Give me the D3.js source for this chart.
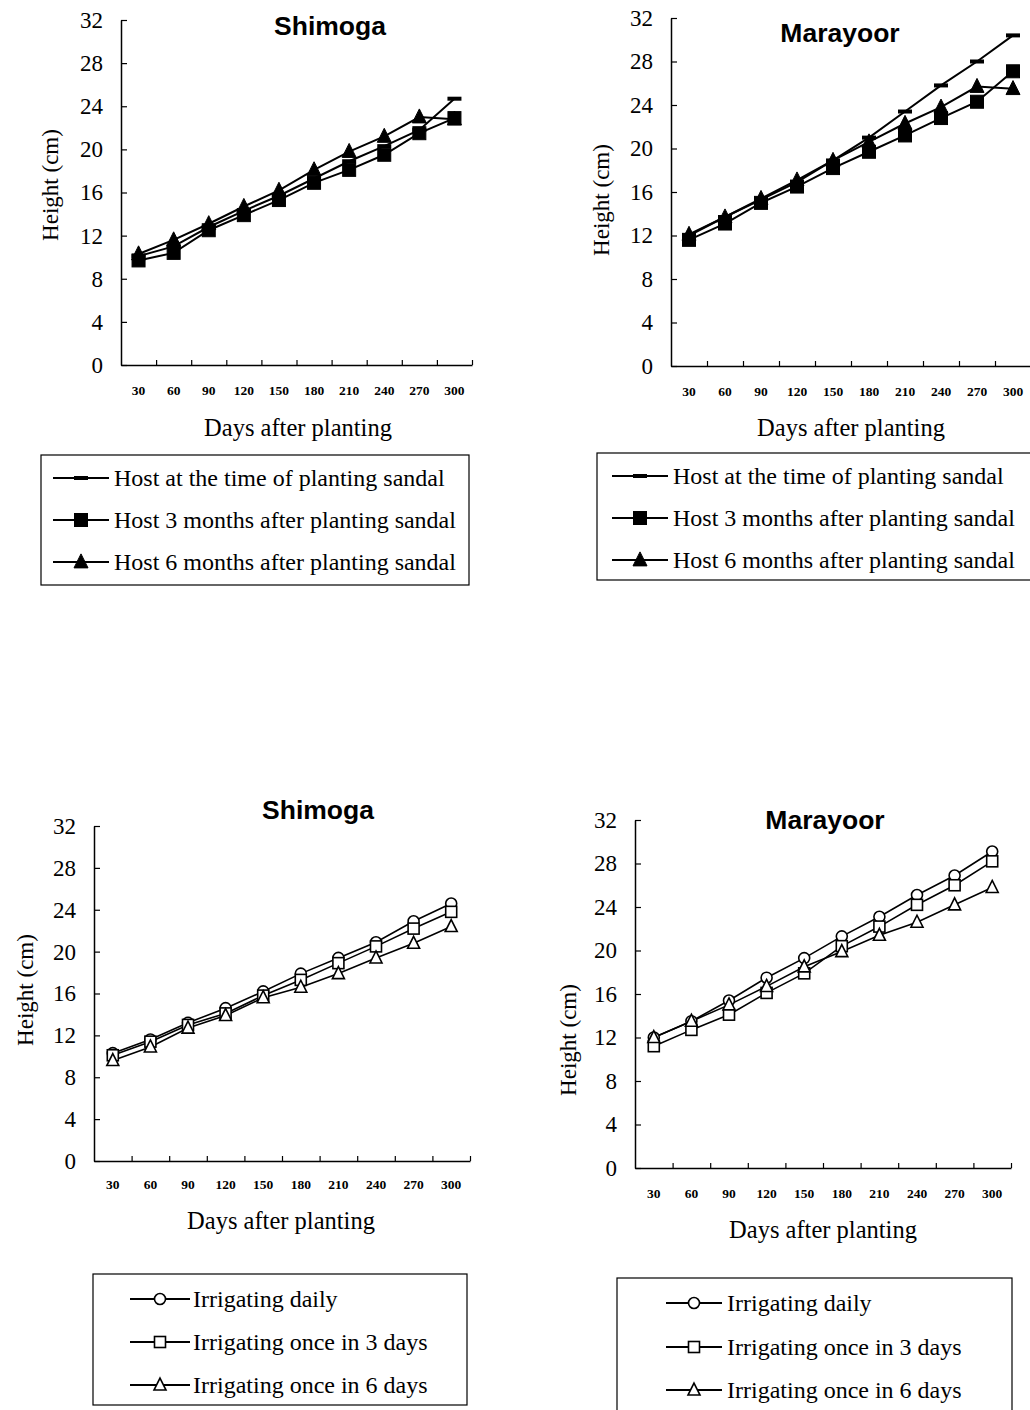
<!DOCTYPE html>
<html><head><meta charset="utf-8">
<script src="https://cdn.jsdelivr.net/npm/d3@7"></script>
<style>body{margin:0;background:#fff}svg{display:block}</style>
</head><body>
<script>
const days = [30, 60, 90, 120, 150, 180, 210, 240, 270, 300];
const yTicks = [0, 4, 8, 12, 16, 20, 24, 28, 32];

const hostLabels = ["Host at the time of planting sandal", "Host 3 months after planting sandal", "Host 6 months after planting sandal"];
const irrigLabels = ["Irrigating daily", "Irrigating once in 3 days", "Irrigating once in 6 days"];

const shimogaHostAtPlanting = [10.1, 11.0, 12.8, 14.3, 15.7, 17.3, 18.9, 20.3, 21.8, 24.7];
const shimogaHost3m        = [9.7, 10.4, 12.5, 13.9, 15.3, 16.9, 18.1, 19.5, 21.5, 22.9];
const shimogaHost6m        = [10.3, 11.6, 13.1, 14.7, 16.2, 18.1, 19.8, 21.2, 23.0, 22.8];

const marayoorHostAtPlanting = [12.0, 13.7, 15.3, 16.9, 18.9, 21.0, 23.4, 25.8, 28.0, 30.4];
const marayoorHost3m         = [11.6, 13.1, 15.0, 16.5, 18.2, 19.7, 21.2, 22.8, 24.3, 27.1];
const marayoorHost6m         = [12.1, 13.7, 15.4, 17.1, 18.9, 20.6, 22.3, 23.8, 25.7, 25.5];

const shimogaDaily = [10.3, 11.6, 13.2, 14.6, 16.2, 17.9, 19.4, 20.9, 22.9, 24.6];
const shimoga3d    = [10.1, 11.4, 13.0, 14.1, 15.8, 17.3, 18.9, 20.5, 22.2, 23.8];
const shimoga6d    = [9.6, 10.9, 12.7, 13.9, 15.6, 16.6, 17.9, 19.4, 20.8, 22.4];

const marayoorDaily = [12.0, 13.5, 15.4, 17.5, 19.3, 21.3, 23.1, 25.1, 26.9, 29.1];
const marayoor3d    = [11.2, 12.7, 14.1, 16.1, 17.9, 20.4, 22.2, 24.2, 26.0, 28.2];
const marayoor6d    = [12.0, 13.5, 15.0, 16.7, 18.5, 19.9, 21.4, 22.6, 24.2, 25.8];

const svg = d3.select("body").append("svg").attr("width", 1030).attr("height", 1410);
const SERIF = "'Liberation Serif','DejaVu Serif',serif";
const SANS = "'Liberation Sans',Arial,sans-serif";

function marker(g, type, x, y, filled) {
  const fill = filled ? "#000" : "#fff";
  if (type === "dash") {
    g.append("rect").attr("x", x - 7).attr("y", y - 2).attr("width", 14).attr("height", 4).attr("fill", "#000");
  } else if (type === "square") {
    const s = filled ? 13 : 11;
    g.append("rect").attr("x", x - s/2).attr("y", y - s/2).attr("width", s).attr("height", s)
      .attr("fill", fill).attr("stroke", "#000").attr("stroke-width", filled ? 1 : 1.6);
  } else if (type === "triangle") {
    const s = filled ? 14 : 12;
    g.append("path").attr("d", `M${x},${y - s*0.58}L${x + s/2},${y + s*0.42}L${x - s/2},${y + s*0.42}Z`)
      .attr("fill", fill).attr("stroke", "#000").attr("stroke-width", filled ? 1 : 1.6);
  } else if (type === "circle") {
    g.append("circle").attr("cx", x).attr("cy", y).attr("r", 5.5)
      .attr("fill", fill).attr("stroke", "#000").attr("stroke-width", 1.6);
  }
}

function panel(cfg) {
  const g = svg.append("g");
  const x = d3.scaleBand().domain(days).range([cfg.x0, cfg.x1]);
  const xb = d3.scaleLinear().domain([0, days.length]).range([cfg.x0, cfg.x1]);
  const y = d3.scaleLinear().domain([0, 32]).range([cfg.y0, cfg.y1]);

  // y axis
  const ya = g.append("g").attr("transform", `translate(${cfg.x0},0)`)
    .call(d3.axisLeft(y).tickValues(yTicks).tickSize(-6).tickPadding(18).tickSizeOuter(0));
  ya.select(".domain").attr("stroke-width", 1.5);
  ya.selectAll(".tick line").attr("stroke-width", 1.2);
  ya.selectAll("text").attr("font-family", SERIF).attr("font-size", 23).attr("fill", "#000");

  // x axis: boundary ticks
  const xa = g.append("g").attr("transform", `translate(0,${cfg.y0})`)
    .call(d3.axisBottom(xb).tickValues(d3.range(1, days.length + 1)).tickSize(-5).tickSizeOuter(0).tickFormat(""));
  xa.select(".domain").attr("stroke-width", 1.5);
  xa.selectAll(".tick line").attr("stroke-width", 1.2);
  // x labels at band centres
  const xl = g.append("g").attr("transform", `translate(0,${cfg.y0})`)
    .call(d3.axisBottom(x).tickSize(0).tickPadding(cfg.xLabPad));
  xl.select(".domain").remove();
  xl.selectAll("text").attr("font-family", SERIF).attr("font-weight", "bold").attr("font-size", 13.5).attr("fill", "#000");

  // titles
  g.append("text").attr("x", cfg.titleX).attr("y", cfg.titleY).attr("text-anchor", "middle")
    .attr("font-family", SANS).attr("font-weight", "bold").attr("font-size", 26.5).text(cfg.title);
  g.append("text").attr("transform", `translate(${cfg.ylabX},${cfg.ylabY}) rotate(-90)`).attr("text-anchor", "middle")
    .attr("font-family", SERIF).attr("font-size", 23).text("Height (cm)");
  g.append("text").attr("x", cfg.xlabX).attr("y", cfg.xlabY).attr("text-anchor", "middle")
    .attr("font-family", SERIF).attr("font-size", 24.5).text("Days after planting");

  // series
  const line = d3.line().x((d, i) => x(days[i]) + x.bandwidth()/2).y(d => y(d));
  cfg.series.forEach(s => {
    g.append("path").attr("d", line(s.values)).attr("fill", "none").attr("stroke", "#000").attr("stroke-width", cfg.lw);
  });
  cfg.series.forEach(s => {
    s.values.forEach((v, i) => marker(g, s.marker, x(days[i]) + x.bandwidth()/2, y(v), cfg.filled));
  });

  // legend
  const L = cfg.legend;
  g.append("rect").attr("x", L.x).attr("y", L.y).attr("width", L.w).attr("height", L.h)
    .attr("fill", "none").attr("stroke", "#000").attr("stroke-width", 1.2);
  cfg.series.forEach((s, i) => {
    const yy = L.rows[i];
    g.append("line").attr("x1", L.lx0).attr("x2", L.lx1).attr("y1", yy).attr("y2", yy)
      .attr("stroke", "#000").attr("stroke-width", 2);
    marker(g, s.marker, (L.lx0 + L.lx1)/2, yy, cfg.filled);
    g.append("text").attr("x", L.tx).attr("y", yy).attr("dy", "0.35em")
      .attr("font-family", SERIF).attr("font-size", 24).text(s.label);
  });
}

panel({
  x0: 121, x1: 472, y0: 365, y1: 20, title: "Shimoga", titleX: 330, titleY: 35,
  ylabX: 58, ylabY: 185, xlabX: 298, xlabY: 436, xLabPad: 20, lw: 2, filled: true,
  series: [
    {label: hostLabels[0], values: shimogaHostAtPlanting, marker: "dash"},
    {label: hostLabels[1], values: shimogaHost3m, marker: "square"},
    {label: hostLabels[2], values: shimogaHost6m, marker: "triangle"}
  ],
  legend: {x: 41, y: 455, w: 428, h: 130, rows: [478, 520, 562], lx0: 53, lx1: 109, tx: 114}
});

panel({
  x0: 671, x1: 1031, y0: 366, y1: 18, title: "Marayoor", titleX: 840, titleY: 42,
  ylabX: 609, ylabY: 200, xlabX: 851, xlabY: 436, xLabPad: 20, lw: 2, filled: true,
  series: [
    {label: hostLabels[0], values: marayoorHostAtPlanting, marker: "dash"},
    {label: hostLabels[1], values: marayoorHost3m, marker: "square"},
    {label: hostLabels[2], values: marayoorHost6m, marker: "triangle"}
  ],
  legend: {x: 597, y: 453, w: 434, h: 127, rows: [476, 518, 560], lx0: 612, lx1: 668, tx: 673}
});

panel({
  x0: 94, x1: 470, y0: 1161, y1: 826, title: "Shimoga", titleX: 318, titleY: 819,
  ylabX: 33, ylabY: 990, xlabX: 281, xlabY: 1229, xLabPad: 18, lw: 1.6, filled: false,
  series: [
    {label: irrigLabels[0], values: shimogaDaily, marker: "circle"},
    {label: irrigLabels[1], values: shimoga3d, marker: "square"},
    {label: irrigLabels[2], values: shimoga6d, marker: "triangle"}
  ],
  legend: {x: 93, y: 1274, w: 374, h: 131, rows: [1299, 1342, 1385], lx0: 130, lx1: 190, tx: 193}
});

panel({
  x0: 635, x1: 1011, y0: 1168, y1: 820, title: "Marayoor", titleX: 825, titleY: 829,
  ylabX: 576, ylabY: 1040, xlabX: 823, xlabY: 1238, xLabPad: 20, lw: 1.6, filled: false,
  series: [
    {label: irrigLabels[0], values: marayoorDaily, marker: "circle"},
    {label: irrigLabels[1], values: marayoor3d, marker: "square"},
    {label: irrigLabels[2], values: marayoor6d, marker: "triangle"}
  ],
  legend: {x: 617, y: 1278, w: 395, h: 140, rows: [1303, 1347, 1390], lx0: 666, lx1: 722, tx: 727}
});
</script>
</body></html>
